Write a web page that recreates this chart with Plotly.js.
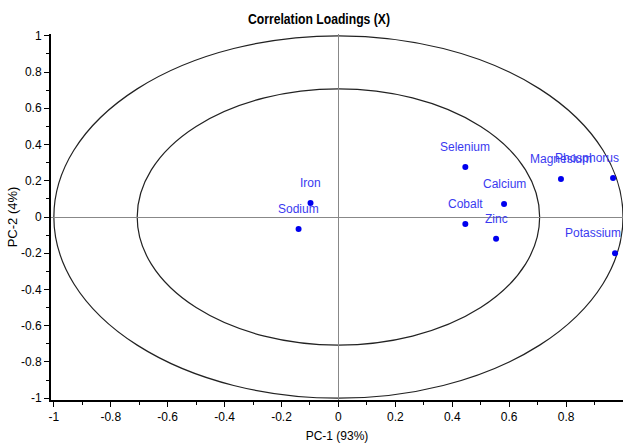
<!DOCTYPE html>
<html><head><meta charset="utf-8">
<script src="https://cdn.plot.ly/plotly-3.0.1.min.js"></script>
<style>html,body{margin:0;padding:0;background:#fff}#c{width:623px;height:448px}</style>
</head><body><div id="c"></div>
<script>
const variables = ["Iron","Sodium","Selenium","Calcium","Cobalt","Zinc","Magnesium","Phosphorus","Potassium"];
const pc1 = [-0.098,-0.14,0.446,0.582,0.446,0.554,0.782,0.965,0.972];
const pc2 = [0.077,-0.066,0.276,0.072,-0.039,-0.12,0.21,0.215,-0.2];
const radii = [1, Math.sqrt(0.5)];
const tickVals = [-1,-0.8,-0.6,-0.4,-0.2,0,0.2,0.4,0.6,0.8,1];

const sans = 'Liberation Sans, Arial, sans-serif';

const trace = {
  x: pc1, y: pc2, mode: 'markers', type: 'scatter',
  marker: {color: '#0000ee', size: 6},
  cliponaxis: false, hoverinfo: 'none'
};

// labels: right-aligned for the points near the right edge
const annotations = variables.map((name, i) => {
  const nearEdge = pc1[i] > 0.9;
  return {
    x: pc1[i], y: pc2[i], text: name, showarrow: false,
    xref: 'x', yref: 'y',
    xanchor: nearEdge ? 'right' : 'center', yanchor: 'middle',
    xshift: nearEdge ? 8 : 0, yshift: 20,
    font: {family: sans, size: 12, color: '#3a3af0'}
  };
});

const shapes = radii.map(r => ({
  type: 'circle', xref: 'x', yref: 'y', x0: -r, x1: r, y0: -r, y1: r,
  line: {color: '#222', width: 1.2}, layer: 'below'
}));

const axisCommon = {
  tickvals: tickVals, ticktext: tickVals.map(v => String(v)),
  ticks: 'outside', ticklen: 5, tickwidth: 1, tickcolor: '#000',
  minor: {dtick: 0.1, ticks: 'outside', ticklen: 3, tickcolor: '#000', showgrid: false},
  showline: true, linecolor: '#000', linewidth: 2,
  showgrid: false, zeroline: true, zerolinecolor: '#888', zerolinewidth: 1,
  tickfont: {family: sans, size: 12, color: '#000'}
};

const layout = {
  width: 623, height: 448,
  margin: {l: 51, r: 0, t: 34, b: 48},
  paper_bgcolor: '#fff', plot_bgcolor: '#fff',
  showlegend: false,
  title: {text: '<b>Correlation Loadings (X)</b>', xref: 'container', x: 0.512, xanchor: 'center',
          yref: 'container', y: 0.958, yanchor: 'middle',
          font: {family: sans, size: 15, color: '#000'}},
  xaxis: Object.assign({}, axisCommon, {range: [-1.01, 1.0],
          title: {text: 'PC-1 (93%)', standoff: 8, font: {family: sans, size: 12, color: '#000'}}}),
  yaxis: Object.assign({}, axisCommon, {range: [-1.01, 1.01],
          title: {text: 'PC-2 (4%)', standoff: 0, font: {family: sans, size: 13, color: '#000'}}}),
  shapes: shapes,
  annotations: annotations
};

Plotly.newPlot('c', [trace], layout, {displayModeBar: false, staticPlot: true}).then(() => {
  const t = document.querySelector('.gtitle');
  if (t) { t.setAttribute('textLength', '142'); t.setAttribute('lengthAdjust', 'spacingAndGlyphs'); }
});
</script></body></html>
